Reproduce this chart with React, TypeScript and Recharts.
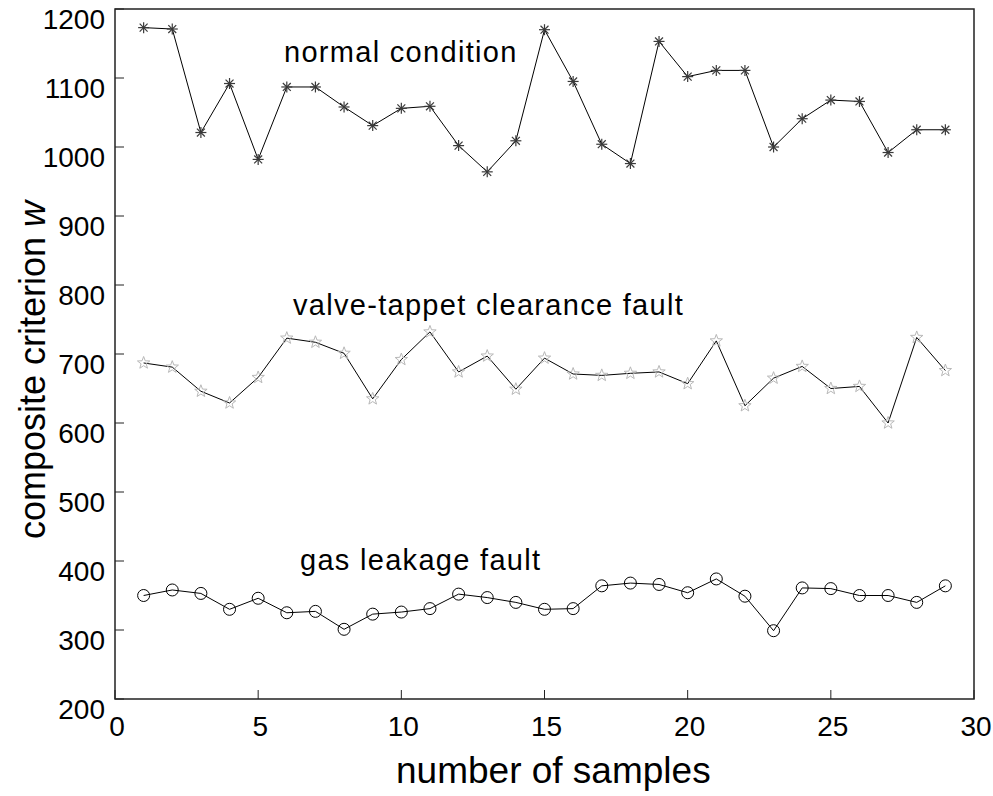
import React from "react";
import { LineChart, Line, XAxis, YAxis, ReferenceArea } from "recharts";

const samples = [1, 2, 3, 4, 5, 6, 7, 8, 9, 10, 11, 12, 13, 14, 15, 16, 17, 18, 19, 20, 21, 22, 23, 24, 25, 26, 27, 28, 29];
const normalCondition = [1173, 1171, 1021, 1092, 982, 1087, 1087, 1058, 1031, 1056, 1059, 1002, 964, 1009, 1170, 1095, 1004, 976, 1153, 1102, 1111, 1111, 1000, 1041, 1068, 1066, 992, 1025, 1025];
const valveTappet = [687, 681, 646, 629, 666, 723, 717, 701, 635, 692, 732, 674, 697, 649, 694, 671, 669, 672, 674, 657, 719, 625, 665, 682, 650, 653, 600, 724, 676];
const gasLeakage = [350, 358, 353, 330, 346, 325, 327, 301, 323, 326, 331, 352, 347, 340, 330, 331, 364, 368, 366, 354, 374, 349, 299, 361, 360, 350, 350, 340, 364];
const xTicks = [0, 5, 10, 15, 20, 25, 30];
const yTicks = [200, 300, 400, 500, 600, 700, 800, 900, 1000, 1100, 1200];

const data = samples.map((s, i) => ({
  sample: s,
  normal: normalCondition[i],
  valve: valveTappet[i],
  gas: gasLeakage[i],
}));

const FONT = '"Liberation Sans", Arial, sans-serif';
const AXIS = "#222";

const XTick = (props: any) => {
  const { x, y, payload } = props;
  return (
    <g>
      <line x1={x} y1={y} x2={x} y2={y - 9} stroke={AXIS} strokeWidth={1} />
      <text x={x + 2} y={y + 37} textAnchor="middle" fontSize={28} fontFamily={FONT} fill="#000">
        {payload.value}
      </text>
    </g>
  );
};

const YTick = (props: any) => {
  const { x, y, payload } = props;
  return (
    <g>
      <line x1={x} y1={y} x2={x + 9} y2={y} stroke={AXIS} strokeWidth={1} />
      <text x={x - 10} y={y + 20} textAnchor="end" fontSize={28} fontFamily={FONT} fill="#000">
        {payload.value}
      </text>
    </g>
  );
};

const AsteriskDot = (props: any) => {
  const { cx, cy, index } = props;
  if (cx == null || cy == null) return null;
  const r = 5.5;
  const d = r * 0.72;
  return (
    <g key={`a-${index}`} stroke="#3a3a3a" strokeWidth={1.2}>
      <line x1={cx - r} y1={cy} x2={cx + r} y2={cy} />
      <line x1={cx} y1={cy - r} x2={cx} y2={cy + r} />
      <line x1={cx - d} y1={cy - d} x2={cx + d} y2={cy + d} />
      <line x1={cx - d} y1={cy + d} x2={cx + d} y2={cy - d} />
    </g>
  );
};

const StarDot = (props: any) => {
  const { cx, cy, index } = props;
  if (cx == null || cy == null) return null;
  const pts: string[] = [];
  for (let k = 0; k < 10; k++) {
    const rr = k % 2 === 0 ? 6.5 : 2.7;
    const a = -Math.PI / 2 + (k * Math.PI) / 5;
    pts.push(`${cx + rr * Math.cos(a)},${cy + rr * Math.sin(a)}`);
  }
  return <polygon key={`s-${index}`} points={pts.join(" ")} fill="none" stroke="#b8b8b8" strokeWidth={1} />;
};

const CircleDot = (props: any) => {
  const { cx, cy, index } = props;
  if (cx == null || cy == null) return null;
  return <circle key={`c-${index}`} cx={cx} cy={cy} r={6} fill="none" stroke="#000" strokeWidth={1} />;
};

export default function App() {
  return (
    <div style={{ position: "absolute", left: 0, top: 0, width: 993, height: 796, background: "#fff" }}>
      <LineChart width={993} height={796} data={data} margin={{ top: 9, right: 19, bottom: 0, left: 0 }}>
        <XAxis
          dataKey="sample"
          type="number"
          domain={[0, 30]}
          ticks={xTicks}
          axisLine={false}
          tickLine={false}
          tickSize={0}
          tickMargin={0}
          tick={<XTick />}
          height={97}
          interval={0}
        />
        <YAxis
          type="number"
          domain={[200, 1200]}
          ticks={yTicks}
          axisLine={false}
          tickLine={false}
          tickSize={0}
          tickMargin={0}
          tick={<YTick />}
          width={115}
          interval={0}
        />
        <ReferenceArea x1={0} x2={30} y1={200} y2={1200} fill="none" stroke={AXIS} strokeWidth={1.5} ifOverflow="visible" />
        <Line type="linear" dataKey="normal" stroke="#000" strokeWidth={1} dot={AsteriskDot} activeDot={false} isAnimationActive={false} />
        <Line type="linear" dataKey="valve" stroke="#000" strokeWidth={1} dot={StarDot} activeDot={false} isAnimationActive={false} />
        <Line type="linear" dataKey="gas" stroke="#000" strokeWidth={1} dot={CircleDot} activeDot={false} isAnimationActive={false} />
      </LineChart>
      <svg width={993} height={796} style={{ position: "absolute", left: 0, top: 0, pointerEvents: "none" }}>
        <g fontFamily={FONT} fill="#000">
          <text x={284} y={62} fontSize={29} letterSpacing={1.3}>normal condition</text>
          <text x={293} y={315} fontSize={29} letterSpacing={1.3}>valve-tappet clearance fault</text>
          <text x={300} y={570} fontSize={29} letterSpacing={1.3}>gas leakage fault</text>
          <text x={396} y={783} fontSize={37}>number of samples</text>
          <text x={45} y={370} fontSize={36} textAnchor="middle" transform="rotate(-90, 45, 370)">
            composite criterion <tspan fontStyle="italic">w</tspan>
          </text>
        </g>
      </svg>
    </div>
  );
}
